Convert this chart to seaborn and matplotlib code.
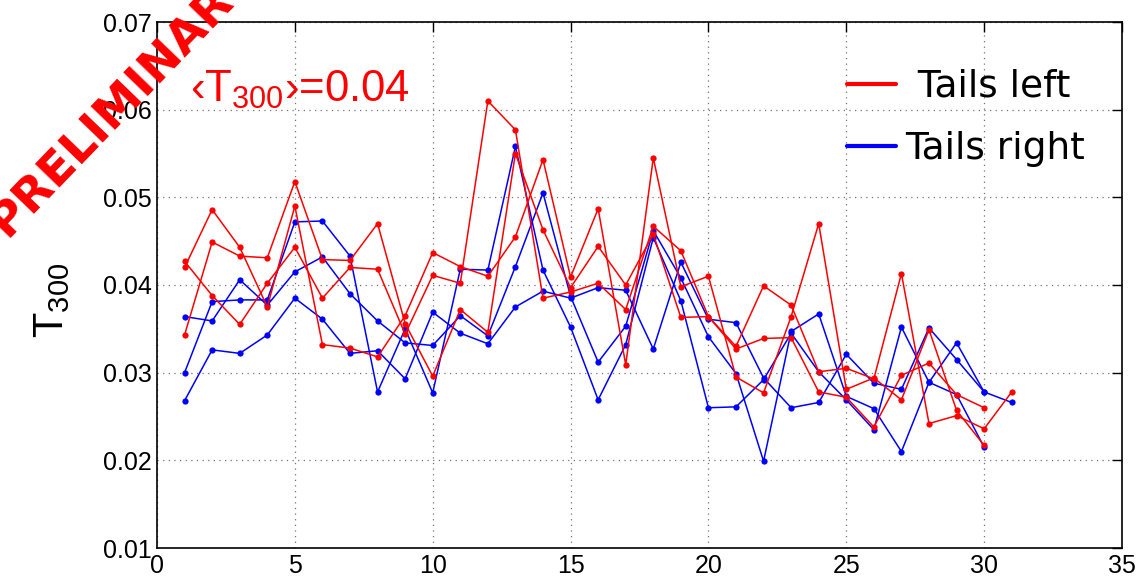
import numpy as np
import pandas as pd
import matplotlib
matplotlib.use("Agg")
import matplotlib.pyplot as plt
import seaborn as sns
from matplotlib.lines import Line2D

# ---------------- data ----------------
runs_x = list(range(1, 32))

left_run1 = [0.0427, 0.0388, 0.0355, 0.0402, 0.0443, 0.0385, 0.0420, 0.0418, 0.0344, 0.0411,
             0.0402, 0.0610, 0.0577, 0.0385, 0.0392, 0.0402, 0.0372, 0.0467, 0.0439, 0.0364,
             0.0330, 0.0399, 0.0377, 0.0301, 0.0305, 0.0293, 0.0413, 0.0242, 0.0251, 0.0236,
             0.0278]
left_run2 = [0.0420, 0.0486, 0.0443, 0.0375, 0.0490, 0.0332, 0.0328, 0.0318, 0.0365, 0.0437,
             0.0421, 0.0410, 0.0455, 0.0543, 0.0409, 0.0487, 0.0309, 0.0545, 0.0398, 0.0410,
             0.0295, 0.0277, 0.0364, 0.0470, 0.0281, 0.0294, 0.0269, 0.0349, 0.0257, 0.0217,
             np.nan]
left_run3 = [0.0343, 0.0449, 0.0433, 0.0431, 0.0518, 0.0429, 0.0428, 0.0470, 0.0356, 0.0296,
             0.0372, 0.0346, 0.0550, 0.0463, 0.0397, 0.0444, 0.0400, 0.0458, 0.0363, 0.0364,
             0.0327, 0.0339, 0.0340, 0.0278, 0.0272, 0.0238, 0.0297, 0.0311, 0.0275, 0.0260,
             np.nan]

right_run1 = [0.0364, 0.0359, 0.0406, 0.0377, 0.0415, 0.0432, 0.0390, 0.0359, 0.0334, 0.0331,
              0.0365, 0.0342, 0.0421, 0.0505, 0.0387, 0.0312, 0.0353, 0.0462, 0.0408, 0.0341,
              0.0299, 0.0199, 0.0347, 0.0367, 0.0273, 0.0259, 0.0210, 0.0289, 0.0334, 0.0278,
              0.0266]
right_run2 = [0.0300, 0.0381, 0.0383, 0.0383, 0.0472, 0.0473, 0.0433, 0.0278, 0.0350, 0.0277,
              0.0418, 0.0417, 0.0558, 0.0417, 0.0352, 0.0269, 0.0332, 0.0454, 0.0382, 0.0260,
              0.0261, 0.0292, 0.0345, 0.0301, 0.0269, 0.0235, 0.0352, 0.0289, 0.0275, 0.0215,
              np.nan]
right_run3 = [0.0268, 0.0326, 0.0322, 0.0343, 0.0385, 0.0361, 0.0322, 0.0325, 0.0293, 0.0369,
              0.0345, 0.0333, 0.0375, 0.0393, 0.0385, 0.0397, 0.0394, 0.0327, 0.0426, 0.0361,
              0.0357, 0.0294, 0.0260, 0.0266, 0.0321, 0.0288, 0.0281, 0.0351, 0.0315, 0.0278,
              np.nan]

legend_labels = [" Tails left", "Tails right"]
x_ticks = [0, 5, 10, 15, 20, 25, 30, 35]
y_ticks = [0.01, 0.02, 0.03, 0.04, 0.05, 0.06, 0.07]
y_tick_labels = ["0.01", "0.02", "0.03", "0.04", "0.05", "0.06", "0.07"]

# ---------------- long-form table ----------------
frames = []
for name, side, vals in [("L1", "left", left_run1), ("L2", "left", left_run2), ("L3", "left", left_run3),
                         ("R1", "right", right_run1), ("R2", "right", right_run2), ("R3", "right", right_run3)]:
    frames.append(pd.DataFrame({"x": runs_x, "T": vals, "side": side, "run": name}))
df = pd.concat(frames, ignore_index=True).dropna()

# ---------------- plot ----------------
sns.set_style("white")
plt.rcParams["font.family"] = ["Liberation Sans", "DejaVu Sans"]
plt.rcParams["text.color"] = "black"
plt.rcParams["mathtext.fontset"] = "custom"
plt.rcParams["mathtext.rm"] = "Liberation Sans"

fig = plt.figure(figsize=(11.41, 5.80), dpi=100)
ax = fig.add_axes([157 / 1141, 1 - 548 / 580, (1122 - 157) / 1141, (548 - 22) / 580])

palette = {"left": "#ff0000", "right": "#0000ff"}
sns.lineplot(data=df, x="x", y="T", hue="side", units="run", estimator=None,
             palette=palette, hue_order=["right", "left"], sort=False,
             marker="o", markersize=4.5, markeredgewidth=0, linewidth=1.1,
             legend=False, ax=ax)

ax.set_xlim(0, 35)
ax.set_ylim(0.01, 0.07)
ax.set_xticks(x_ticks)
ax.set_xticklabels([str(t) for t in x_ticks])
ax.set_yticks(y_ticks)
ax.set_yticklabels(y_tick_labels)
ax.tick_params(direction="in", length=7, width=1, top=True, right=True,
               labelsize=18, colors="black", labelcolor="black", pad=4)
ax.grid(True, linestyle=(0, (1, 3.5)), color="0.45", linewidth=0.9)
for s in ax.spines.values():
    s.set_visible(True)
    s.set_color("black")
    s.set_linewidth(1.2)

ax.set_xlabel("")
ax.set_ylabel(r"$\mathregular{T_{300}}$", fontsize=30, color="black")
ax.yaxis.set_label_coords(-0.088, 0.47)

ax.text(0.034, 0.848, r"‹$\mathregular{T_{300}}$›=0.04", transform=ax.transAxes,
        color="#ff0000", fontsize=31.5, ha="left", va="baseline")

handles = [Line2D([0], [0], color="#ff0000", linewidth=3),
           Line2D([0], [0], color="#0000ff", linewidth=3)]
leg = ax.legend(handles, legend_labels, loc="upper right",
                bbox_to_anchor=((1104 - 157) / 965, (548 - 50) / 526),
                frameon=False, prop={"family": "DejaVu Sans", "size": 27},
                handlelength=1.3, handletextpad=0.25, labelspacing=0.7,
                borderpad=0.0)
for t in leg.get_texts():
    t.set_color("black")

fig.text(0.006, 1 - 238 / 580, "PRELIMINARY", rotation=46, rotation_mode="anchor",
         ha="left", va="baseline", color="#ff0000", fontsize=34, fontweight="bold",
         family="DejaVu Sans")

fig.savefig("out.png", dpi=100, facecolor="white")
